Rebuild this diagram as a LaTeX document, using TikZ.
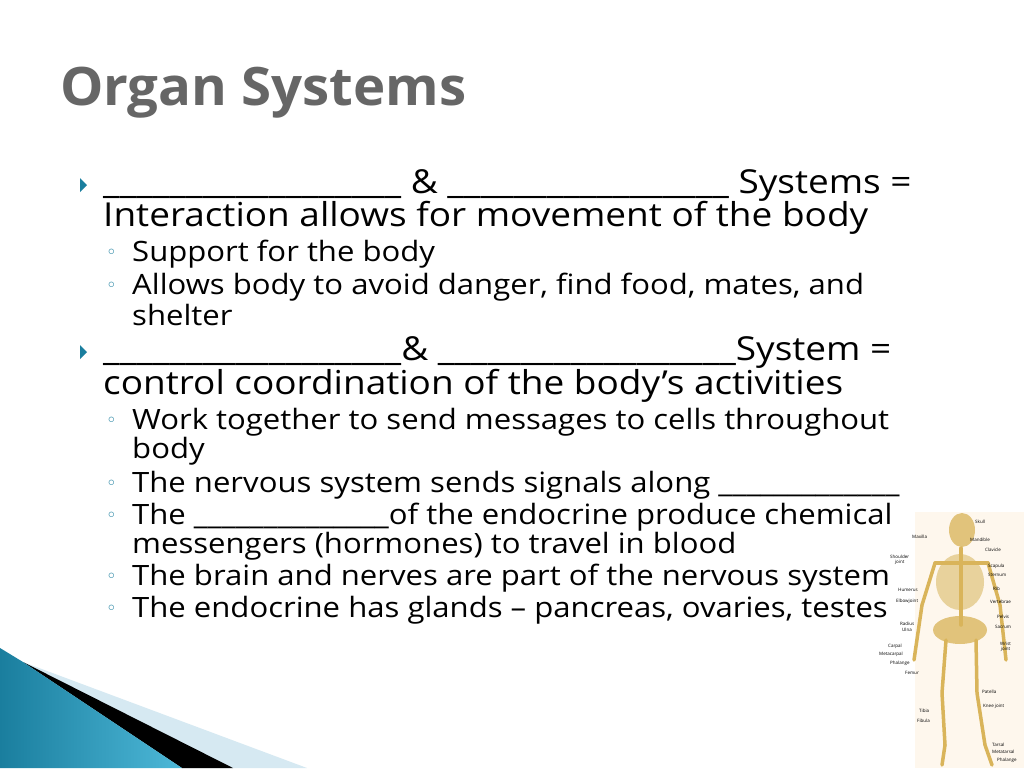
\documentclass[tikz,border=0pt]{standalone}
\usepackage{fontspec}
\setmainfont{Open Sans}
\newfontfamily\symf{DejaVu Sans}
\definecolor{swt}{HTML}{1A7E9E}
\definecolor{swl}{HTML}{4DB8D8}
\definecolor{swp}{HTML}{D6E9F2}
\definecolor{bonec}{HTML}{D9B45A}
\begin{document}
\begin{tikzpicture}[x=1pt,y=-1pt,
  main/.style={anchor=west,inner sep=0pt,xscale=1.12,transform shape,font=\fontsize{33}{33}\selectfont},
  sub/.style={anchor=west,inner sep=0pt,xscale=1.11,transform shape,font=\fontsize{28}{28}\selectfont},
  arr/.style={fill=swt},
  dot/.style={anchor=west,inner sep=0pt,font=\fontsize{18}{18}\selectfont\symf,text=swt},
  lab/.style={inner sep=0pt,font=\fontsize{4.5}{4.5}\selectfont,anchor=west},
  bone/.style={draw=bonec,line width=3.5pt,line cap=round}]
\useasboundingbox (0,0) rectangle (1024,768);
\fill[white] (0,0) rectangle (1024,768);
\node[anchor=west,inner sep=0pt,text=black!60,xscale=1.03,transform shape,font=\fontsize{53}{53}\selectfont\bfseries] (title) at (60,93) {Organ Systems};
% bullets
\fill[arr] (80,178) -- (87,185) -- (80,192) -- cycle;
\fill[arr] (80,345) -- (87,352) -- (80,359) -- cycle;
\node[main] (l1) at (103,185) {\_\_\_\_\_\_\_\_\_\_\_\_\_\_\_\_\_\_ \& \_\_\_\_\_\_\_\_\_\_\_\_\_\_\_\_\_ Systems =};
\node[main] (l2) at (103,218) {Interaction allows for movement of the body};
\node[sub] (l3) at (132,254) {Support for the body};
\node[sub] (l4) at (132,287) {Allows body to avoid danger, find food, mates, and};
\node[sub] (l5) at (132,315) {shelter};
\node[main] (l6) at (103,352) {\_\_\_\_\_\_\_\_\_\_\_\_\_\_\_\_\_\_\& \_\_\_\_\_\_\_\_\_\_\_\_\_\_\_\_\_\_System =};
\node[main] (l7) at (103,386) {control coordination of the body’s activities};
\node[sub] (l8) at (132,422) {Work together to send messages to cells throughout};
\node[sub] (l9) at (132,451) {body};
\node[sub] (l10) at (132,485) {The nervous system sends signals along \_\_\_\_\_\_\_\_\_\_\_\_\_};
\node[sub] (l11) at (132,517) {The \_\_\_\_\_\_\_\_\_\_\_\_\_\_of the endocrine produce chemical};
\node[sub] (l12) at (132,546) {messengers (hormones) to travel in blood};
\node[sub] (l13) at (132,578) {The brain and nerves are part of the nervous system};
\node[sub] (l14) at (132,610) {The endocrine has glands – pancreas, ovaries, testes};
\foreach \y in {254,287,422,485,517,578,610} \node[dot] at (106,\y) {◦};
% swoosh
\fill[swp] (23,662) -- (307,768) -- (182,768) -- cycle;
\fill[black] (23,662) -- (233,768) -- (182,768) -- cycle;
\shade[left color=swt,right color=swl] (0,648) -- (23,662) -- (182,768) -- (0,768) -- cycle;
% skeleton
\fill[yellow!8!orange!6] (915,512) rectangle (1024,768);
\fill[bonec!80] (962,530) ellipse (13 and 17);
\fill[bonec!60] (960,582) ellipse (24 and 28);
\fill[bonec!80] (960,630) ellipse (27 and 14);
\draw[bone] (961,548) -- (961,625);
\draw[bone] (935,563) -- (988,563);
\draw[bone] (935,563) -- (922,605) -- (914,660);
\draw[bone] (988,563) -- (1000,605) -- (1006,660);
\draw[bone] (946,640) -- (942,693) -- (945,745) -- (942,765);
\draw[bone] (976,640) -- (977,693) -- (985,745) -- (992,765);
\node[lab] (sk) at (975,522) {Skull};
\node[lab] at (912,537) {Maxilla};
\node[lab] at (970,540) {Mandible};
\node[lab] at (985,550) {Clavicle};
\node[lab,align=center] at (890,560) {Shoulder\\joint};
\node[lab] at (988,566) {Scapula};
\node[lab] at (988,575) {Sternum};
\node[lab] at (898,590) {Humerus};
\node[lab] at (993,589) {Rib};
\node[lab] at (990,602) {Vertebrae};
\node[lab] at (896,601) {Elbowjoint};
\node[lab] at (900,624) {Radius};
\node[lab] at (902,630) {Ulna};
\node[lab] at (997,617) {Pelvis};
\node[lab] at (995,627) {Sacrum};
\node[lab,align=center] at (1000,647) {Wrist\\joint};
\node[lab] at (888,646) {Carpal};
\node[lab] at (879,654) {Metacarpal};
\node[lab] at (890,663) {Phalange};
\node[lab] at (905,673) {Femur};
\node[lab] at (982,692) {Patella};
\node[lab] at (983,706) {Knee joint};
\node[lab] at (919,711) {Tibia};
\node[lab] at (917,721) {Fibula};
\node[lab] at (992,745) {Tarsal};
\node[lab] at (992,752) {Metatarsal};
\node[lab] at (997,760) {Phalange};
\end{tikzpicture}
\end{document}
